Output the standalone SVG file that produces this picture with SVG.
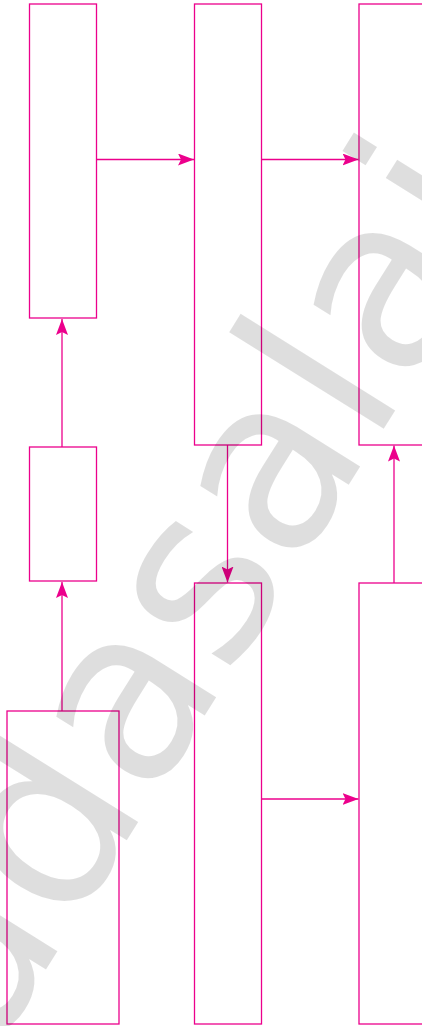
<svg xmlns="http://www.w3.org/2000/svg" width="422" height="1026" viewBox="0 0 422 1026">
<style>
.box{fill:#fff;stroke:#ec008c;stroke-width:1.3}
.edge{fill:none;stroke:#ec008c;stroke-width:1.3}
.wm{font-family:"DejaVu Sans","Liberation Sans",sans-serif;font-size:240px;fill:#000;fill-opacity:0.13}
</style>
<defs>
<marker id="ah" markerUnits="userSpaceOnUse" markerWidth="16" markerHeight="12" refX="16" refY="6" orient="auto">
<path d="M0,0 L16,6 L0,12 L3,6 z" fill="#ec008c"/>
</marker>
</defs>
<rect width="422" height="1026" fill="#fff"/>
<g id="n1"><rect class="box" x="29.5" y="4" width="67" height="314"/></g>
<g id="n2"><rect class="box" x="194.5" y="4" width="67" height="441"/></g>
<g id="n3"><rect class="box" x="359" y="4" width="67" height="441"/></g>
<g id="n4"><rect class="box" x="29.5" y="447" width="67" height="134"/></g>
<g id="n5"><rect class="box" x="7" y="711" width="112" height="313"/></g>
<g id="n6"><rect class="box" x="194.5" y="583" width="67" height="441"/></g>
<g id="n7"><rect class="box" x="359" y="583" width="67" height="441"/></g>
<g id="connectors">
<line class="edge" x1="96.5" y1="159.5" x2="194" y2="159.5" marker-end="url(#ah)"/>
<line class="edge" x1="261.5" y1="159.5" x2="358.5" y2="159.5" marker-end="url(#ah)"/>
<line class="edge" x1="62" y1="447" x2="62" y2="319" marker-end="url(#ah)"/>
<line class="edge" x1="62" y1="711" x2="62" y2="582" marker-end="url(#ah)"/>
<line class="edge" x1="227.5" y1="445" x2="227.5" y2="582.5" marker-end="url(#ah)"/>
<line class="edge" x1="394" y1="583" x2="394" y2="445.5" marker-end="url(#ah)"/>
<line class="edge" x1="261.5" y1="799" x2="358.5" y2="799" marker-end="url(#ah)"/>
</g>
<text class="wm" transform="translate(-80,1171) rotate(-58)">Padasalai</text>
</svg>
